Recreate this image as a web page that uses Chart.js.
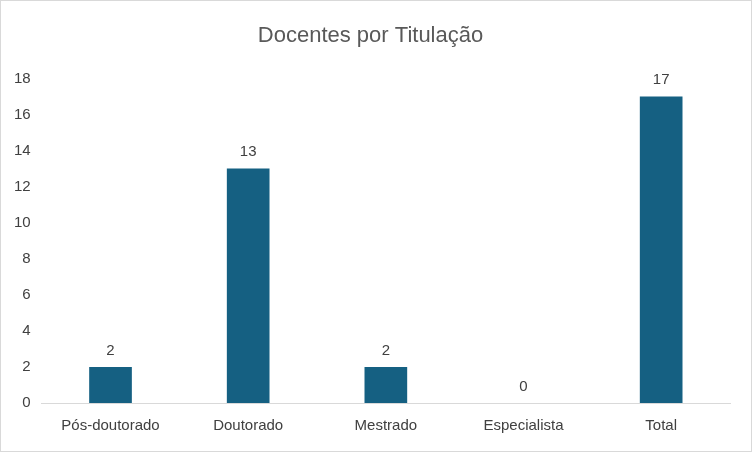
<!DOCTYPE html>
<html><head><meta charset="utf-8">
<script src="https://cdn.jsdelivr.net/npm/chart.js@4"></script>
<style>
html,body{margin:0;padding:0;background:#fff;}
#wrap{position:absolute;left:0;top:0;width:750px;height:450px;border:1px solid #d9d9d9;}
</style></head><body>
<div id="wrap"><canvas id="c" width="750" height="450"></canvas></div>
<script>
const categories = ["Pós-doutorado","Doutorado","Mestrado","Especialista","Total"];
const values = [2,13,2,0,17];
const yTicks = [0,2,4,6,8,10,12,14,16,18];

const labelPlugin = {
  id:'labels',
  afterDatasetsDraw(chart){
    const ctx = chart.ctx;
    const meta = chart.getDatasetMeta(0);
    ctx.save();
    ctx.font = '15px "Liberation Sans", Arial, sans-serif';
    ctx.fillStyle = '#404040';
    ctx.textAlign = 'center';
    ctx.textBaseline = 'bottom';
    meta.data.forEach((b,i)=>{ ctx.fillText(String(values[i]), b.x, b.y - 9); });
    ctx.restore();
  }
};

new Chart(document.getElementById('c'), {
  type:'bar',
  data:{labels:categories, datasets:[{data:values, backgroundColor:'#156082', categoryPercentage:1, barPercentage:0.31}]},
  options:{
    responsive:false, animation:false,
    layout:{padding:{left:10,right:21,top:10,bottom:10}},
    plugins:{
      legend:{display:false}, tooltip:{enabled:false},
      title:{display:true, text:'Docentes por Titulação', color:'#595959',
        font:{size:22, family:'"Liberation Sans", Arial, sans-serif', weight:'normal'},
        padding:{top:12,bottom:29}}
    },
    scales:{
      x:{grid:{display:false}, border:{color:'#d9d9d9'},
        ticks:{color:'#404040', font:{size:15, family:'"Liberation Sans", Arial, sans-serif'}, padding:6}},
      y:{min:0, max:18, grid:{display:false}, border:{display:false},
        afterBuildTicks(s){ s.ticks = yTicks.map(v=>({value:v})); },
        ticks:{color:'#404040', font:{size:15, family:'"Liberation Sans", Arial, sans-serif'}, padding:3}}
    }
  },
  plugins:[labelPlugin]
});
</script></body></html>
